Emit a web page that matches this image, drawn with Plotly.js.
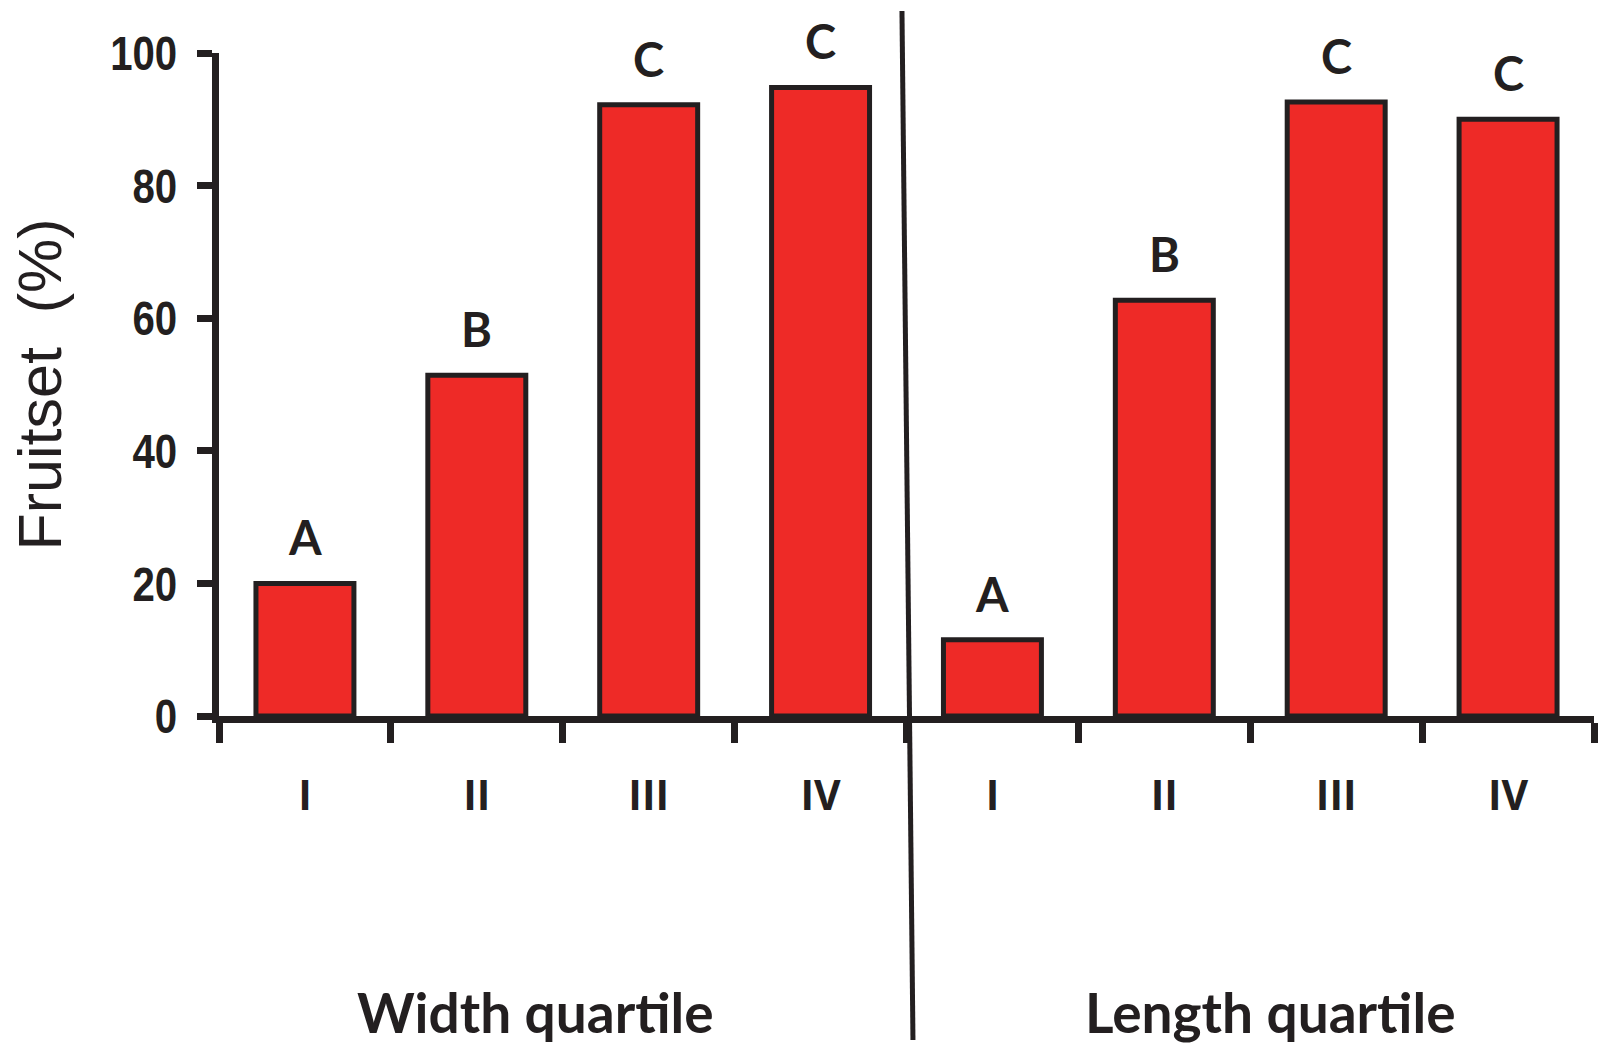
<!DOCTYPE html>
<html>
<head>
<meta charset="utf-8">
<script src="https://cdn.plot.ly/plotly-3.0.1.min.js"></script>
<style>html,body{margin:0;padding:0;background:#fff;}#chart{width:1599px;height:1045px;}</style>
</head>
<body>
<div id="chart"></div>
<script>
// ---- data ----
var quartileLabels = ['I', 'II', 'III', 'IV'];
var widthFruitset = [20.0, 51.4, 92.2, 94.8];
var lengthFruitset = [11.5, 62.7, 92.6, 90.0];
var widthLetters = ['A', 'B', 'C', 'C'];
var lengthLetters = ['A', 'B', 'C', 'C'];
var groupTitles = ['Width quartile', 'Length quartile'];
var yTitle = 'Fruitset&nbsp;&nbsp;(%)';
var yTicks = [0, 20, 40, 60, 80, 100];

var INK = '#231F20';
var RED = '#EE2A27';

var n = quartileLabels.length;
var xWidth = quartileLabels.map(function (_, i) { return i; });
var xLength = quartileLabels.map(function (_, i) { return i + n; });
var allCenters = xWidth.concat(xLength);
var allLabels = quartileLabels.concat(quartileLabels);
var boundaries = [];
for (var i = 0; i <= 2 * n; i++) boundaries.push(i - 0.5);

var barStyle = { color: RED, line: { color: INK, width: 5 } };
var traces = [
  { type: 'bar', x: xWidth, y: widthFruitset, width: 0.57, marker: barStyle, hoverinfo: 'y' },
  { type: 'bar', x: xLength, y: lengthFruitset, width: 0.57, marker: barStyle, hoverinfo: 'y' }
];

var letterFont = { family: 'Lato, "Open Sans", sans-serif', size: 47, color: INK, weight: 'bold' };
var annotations = [];
function addLetters(xs, ys, ls) {
  for (var k = 0; k < xs.length; k++) {
    annotations.push({
      xref: 'x', yref: 'y', x: xs[k], y: ys[k], text: '<b>' + ls[k] + '</b>',
      showarrow: false, yanchor: 'bottom', yshift: 16, font: letterFont
    });
  }
}
addLetters(xWidth, widthFruitset, widthLetters);
addLetters(xLength, lengthFruitset, lengthLetters);

var titleFont = { family: 'Lato, "Open Sans", sans-serif', size: 55, color: INK };
annotations.push({ xref: 'paper', yref: 'paper', x: 0.2305, y: -0.4465, text: '<b>' + groupTitles[0] + '</b>',
  showarrow: false, xanchor: 'center', yanchor: 'middle', font: titleFont });
annotations.push({ xref: 'paper', yref: 'paper', x: 0.7644, y: -0.4465, text: '<b>' + groupTitles[1] + '</b>',
  showarrow: false, xanchor: 'center', yanchor: 'middle', font: titleFont });
annotations.push({ xref: 'paper', yref: 'paper', x: -0.1302, y: 0.5, text: yTitle, textangle: -90,
  showarrow: false, xanchor: 'center', yanchor: 'middle',
  font: { family: '"Liberation Sans", Arial, sans-serif', size: 61, color: INK } });

var layout = {
  width: 1599, height: 1045,
  margin: { l: 219, r: 5, t: 53, b: 329 },
  paper_bgcolor: '#ffffff', plot_bgcolor: '#ffffff',
  showlegend: false,
  bargap: 0.43,
  xaxis: {
    range: [-0.5, 2 * n - 0.5],
    tickmode: 'array', tickvals: allCenters, ticktext: allLabels,
    ticks: '', ticklabelstandoff: 38,
    tickfont: { family: '"Open Sans", Lato, sans-serif', size: 41, color: INK, weight: 'bold' },
    minor: { tickmode: 'array', tickvals: boundaries, ticks: 'outside', ticklen: 20, tickwidth: 7, tickcolor: INK, showgrid: false },
    showline: true, linecolor: INK, linewidth: 7,
    showgrid: false, zeroline: false, fixedrange: true
  },
  yaxis: {
    range: [0, 100],
    tickmode: 'array', tickvals: yTicks,
    ticks: 'outside', ticklen: 15, tickwidth: 7, tickcolor: INK,
    ticklabelstandoff: 10,
    tickfont: { family: '"Liberation Sans Narrow", "Liberation Sans", Arial, sans-serif', size: 49, color: INK, weight: 'bold' },
    showline: true, linecolor: INK, linewidth: 7,
    showgrid: false, zeroline: false, fixedrange: true
  },
  shapes: [
    { type: 'line', xref: 'paper', yref: 'paper', x0: 0.4967, y0: 1.0633, x1: 0.5047, y1: -0.4887,
      line: { color: INK, width: 5 } }
  ],
  annotations: annotations
};

Plotly.newPlot('chart', traces, layout, { displayModeBar: false, staticPlot: true }).then(function (gd) {
  // condense the y tick numbers (the reference uses a narrow bold face)
  var texts = gd.querySelectorAll('.ytick text');
  texts.forEach(function (t) {
    var w = t.getBBox().width;
    t.setAttribute('textLength', (w * 0.82).toFixed(1));
    t.setAttribute('lengthAdjust', 'spacingAndGlyphs');
  });
});
</script>
</body>
</html>
